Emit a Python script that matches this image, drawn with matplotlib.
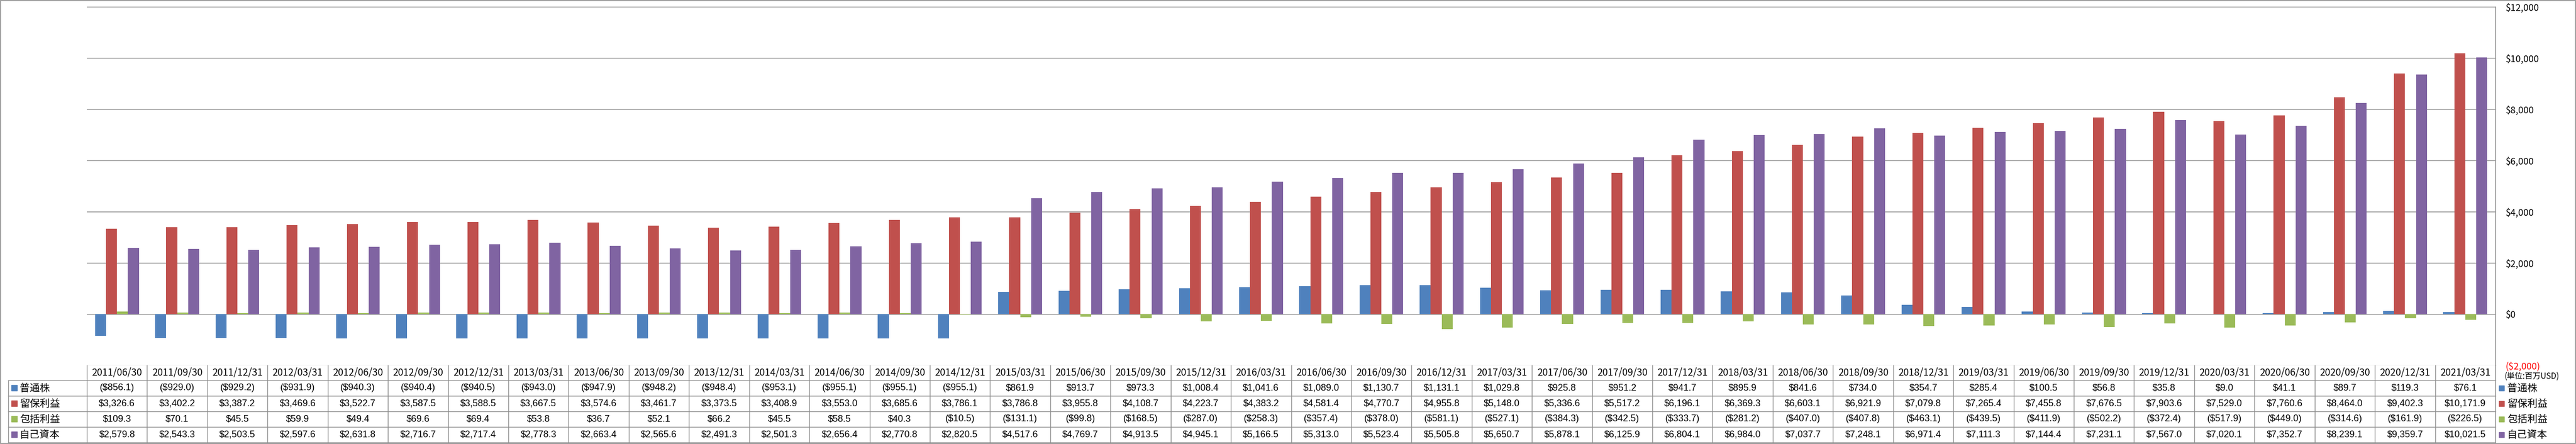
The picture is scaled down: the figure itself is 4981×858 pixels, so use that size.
import numpy as np
import matplotlib
matplotlib.use("Agg")
import matplotlib.pyplot as plt
from matplotlib.lines import Line2D
from matplotlib.patches import Rectangle
from matplotlib.transforms import Affine2D, blended_transform_factory

# quarterly balance sheet items (millions USD)
periods = ["2011/06/30", "2011/09/30", "2011/12/31", "2012/03/31", "2012/06/30",
           "2012/09/30", "2012/12/31", "2013/03/31", "2013/06/30", "2013/09/30",
           "2013/12/31", "2014/03/31", "2014/06/30", "2014/09/30", "2014/12/31",
           "2015/03/31", "2015/06/30", "2015/09/30", "2015/12/31", "2016/03/31",
           "2016/06/30", "2016/09/30", "2016/12/31", "2017/03/31", "2017/06/30",
           "2017/09/30", "2017/12/31", "2018/03/31", "2018/06/30", "2018/09/30",
           "2018/12/31", "2019/03/31", "2019/06/30", "2019/09/30", "2019/12/31",
           "2020/03/31", "2020/06/30", "2020/09/30", "2020/12/31", "2021/03/31"]

common_stock = [-856.1, -929.0, -929.2, -931.9, -940.3, -940.4, -940.5, -943.0,
                -947.9, -948.2, -948.4, -953.1, -955.1, -955.1, -955.1, 861.9,
                913.7, 973.3, 1008.4, 1041.6, 1089.0, 1130.7, 1131.1, 1029.8,
                925.8, 951.2, 941.7, 895.9, 841.6, 734.0, 354.7, 285.4,
                100.5, 56.8, 35.8, 9.0, 41.1, 89.7, 119.3, 76.1]

retained_earnings = [3326.6, 3402.2, 3387.2, 3469.6, 3522.7, 3587.5, 3588.5, 3667.5,
                     3574.6, 3461.7, 3373.5, 3408.9, 3553.0, 3685.6, 3786.1, 3786.8,
                     3955.8, 4108.7, 4223.7, 4383.2, 4581.4, 4770.7, 4955.8, 5148.0,
                     5336.6, 5517.2, 6196.1, 6369.3, 6603.1, 6921.9, 7079.8, 7265.4,
                     7455.8, 7676.5, 7903.6, 7529.0, 7760.6, 8464.0, 9402.3, 10171.9]

comprehensive_income = [109.3, 70.1, 45.5, 59.9, 49.4, 69.6, 69.4, 53.8,
                        36.7, 52.1, 66.2, 45.5, 58.5, 40.3, -10.5, -131.1,
                        -99.8, -168.5, -287.0, -258.3, -357.4, -378.0, -581.1, -527.1,
                        -384.3, -342.5, -333.7, -281.2, -407.0, -407.8, -463.1, -439.5,
                        -411.9, -502.2, -372.4, -517.9, -449.0, -314.6, -161.9, -226.5]

equity = [2579.8, 2543.3, 2503.5, 2597.6, 2631.8, 2716.7, 2717.4, 2778.3,
          2663.4, 2565.6, 2491.3, 2501.3, 2656.4, 2770.8, 2820.5, 4517.6,
          4769.7, 4913.5, 4945.1, 5166.5, 5313.0, 5523.4, 5505.8, 5650.7,
          5878.1, 6125.9, 6804.1, 6984.0, 7037.7, 7248.1, 6971.4, 7111.3,
          7144.4, 7231.1, 7567.0, 7020.1, 7352.7, 8239.1, 9359.7, 10021.5]

series_names = ["普通株", "留保利益", "包括利益", "自己資本"]
series_colors = ["#4F81BD", "#C0504D", "#9BBB59", "#8064A2"]
y_ticks = [-2000, 0, 2000, 4000, 6000, 8000, 10000, 12000]
unit_label = "(単位:百万USD)"


def money(v, dec=1):
    s = f"${abs(v):,.{dec}f}"
    return f"({s})" if v < 0 else s


plt.rcParams["font.family"] = ["Noto Sans CJK JP", "DejaVu Sans"]
num_font = ["Liberation Sans", "DejaVu Sans"]

W, H = 4981, 858
fig = plt.figure(figsize=(W / 100, H / 100), dpi=100)
# pixel coords, origin top-left
pix = Affine2D().scale(1 / W, -1 / H).translate(0, 1) + fig.transFigure

left, right, top, bottom = 168, 4825, 13, 706
ax = fig.add_axes([left / W, 1 - bottom / H, (right - left) / W, (bottom - top) / H])

series = [common_stock, retained_earnings, comprehensive_income, equity]
n = len(periods)
x = np.arange(n)
bw = 1 / 5.5  # gap width 150%
for j, (vals, c) in enumerate(zip(series, series_colors)):
    ax.bar(x + (j - 1.5) * bw, vals, width=bw, color=c, zorder=3)

ax.set_xlim(-0.5, n - 0.5)
ax.set_ylim(-2000, 12000)
ax.set_yticks(y_ticks)
ax.set_yticklabels([money(t, 0) for t in y_ticks])
ax.yaxis.tick_right()
ax.tick_params(axis="y", length=0, pad=14, labelsize=13)
ax.get_yticklabels()[0].set_color("red")
ax.set_xticks([])
ax.grid(axis="y", color="#868686", lw=1.0, zorder=0)
for s in ["left", "top", "bottom"]:
    ax.spines[s].set_visible(False)
ax.spines["right"].set_color("#868686")
ax.spines["right"].set_linewidth(1.0)

# data table under the plot
grid_c = "#8C8C8C"
row_edges = [706, 735, 765, 795, 825, 855]
cat = blended_transform_factory(ax.transData, pix)


def line(xs, ys, tr):
    fig.add_artist(Line2D(xs, ys, transform=tr, color=grid_c, lw=1.0))


for y in row_edges[1:]:
    line([16, right], [y, y], pix)
line([16, 16], [row_edges[1], row_edges[-1]], pix)
line([right, right], [top, row_edges[-1]], pix)
for b in np.arange(n + 1) - 0.5:
    line([b, b], [row_edges[0], row_edges[-1]], cat)

hdr_y = (row_edges[0] + row_edges[1]) / 2
for i, p in enumerate(periods):
    ax.text(i, hdr_y, p, transform=cat, ha="center", va="center", fontsize=13.5)

for r, (vals, name, c) in enumerate(zip(series, series_names, series_colors)):
    yc = (row_edges[r + 1] + row_edges[r + 2]) / 2
    for i, v in enumerate(vals):
        ax.text(i, yc, money(v), transform=cat, ha="center", va="center",
                fontsize=13, family=num_font)
    # row label on the left
    fig.add_artist(Rectangle((22, yc - 6), 11, 11, transform=pix, color=c))
    fig.text(38, yc, name, transform=pix, ha="left", va="center", fontsize=14)
    # legend entry on the right
    fig.add_artist(Rectangle((4832, yc - 5), 10, 10, transform=pix, color=c))
    fig.text(4848, yc, name, transform=pix, ha="left", va="center", fontsize=14)

fig.text(4843, 727, unit_label, transform=pix, ha="left", va="center", fontsize=11)

# chart outer frame
fig.add_artist(Rectangle((1, 1), W - 2, H - 2, transform=pix, fill=False,
                         edgecolor=grid_c, lw=1.2))

fig.savefig("out.png", dpi=100)
